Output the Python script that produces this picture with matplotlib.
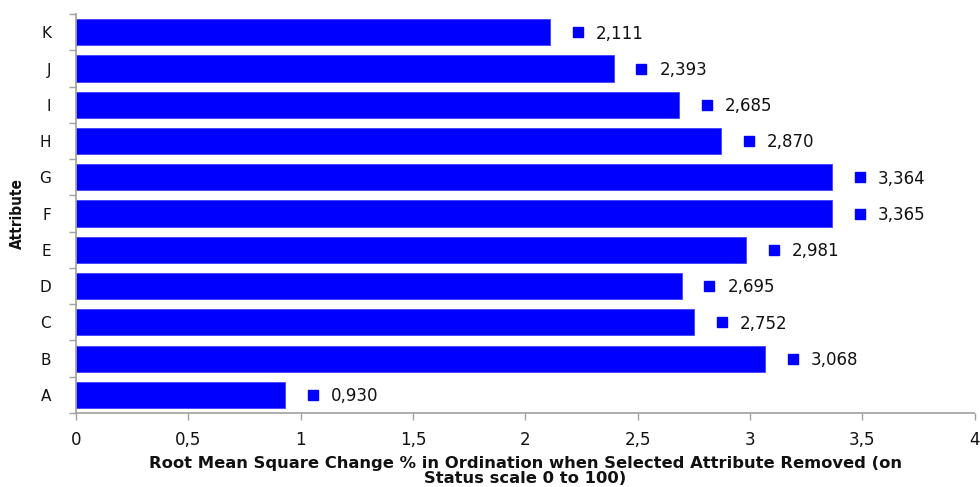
import matplotlib.pyplot as plt
import matplotlib.transforms as mtransforms

attributes = ['A', 'B', 'C', 'D', 'E', 'F', 'G', 'H', 'I', 'J', 'K']
rms_change = [0.930, 3.068, 2.752, 2.695, 2.981, 3.365, 3.364, 2.870, 2.685, 2.393, 2.111]
xticks = [0, 0.5, 1, 1.5, 2, 2.5, 3, 3.5, 4]

blue = '#0000FF'
grey = '#A0A0A0'
txt = '#111111'

fig = plt.figure(figsize=(9.8, 4.87), dpi=100)
ax = fig.add_axes([0.0776, 0.152, 0.917, 0.819])

ypos = range(len(attributes))
ax.barh(ypos, rms_change, height=0.72, color=blue, edgecolor='#4040FF', linewidth=0.6)

# legend key square shifted right of bar end by a fixed offset
offset = mtransforms.ScaledTranslation(20 / 72, 0, fig.dpi_scale_trans)
for y, v in zip(ypos, rms_change):
    ax.plot([v], [y], marker='s', markersize=6.5, color=blue, linestyle='none',
            transform=ax.transData + offset)
    ax.annotate(f'{v:.3f}'.replace('.', ','), xy=(v, y), xytext=(33, -1),
                textcoords='offset points', va='center', ha='left',
                fontsize=12, color=txt)

ax.set_xlim(0, 4)
ax.set_ylim(-0.5, len(attributes) - 0.5)
ax.set_xticks(xticks)
ax.set_xticklabels([('%g' % t).replace('.', ',') for t in xticks], fontsize=12, color=txt)
ax.set_yticks(list(ypos))
ax.set_yticklabels(attributes, fontsize=11, color=txt)
ax.set_yticks([y - 0.5 for y in range(len(attributes) + 1)], minor=True)
ax.tick_params(axis='y', which='major', length=0, pad=18)
ax.tick_params(axis='y', which='minor', length=5, color=grey, width=1)
ax.tick_params(axis='x', length=5, color=grey, width=1, pad=8)

for s in ['top', 'right']:
    ax.spines[s].set_visible(False)
ax.spines['left'].set_color(grey)
ax.spines['left'].set_linewidth(1.2)
ax.spines['bottom'].set_color(grey)
ax.spines['bottom'].set_linestyle((0, (1, 1)))
ax.spines['bottom'].set_linewidth(1.2)

ax.set_xlabel('Root Mean Square Change % in Ordination when Selected Attribute Removed (on\nStatus scale 0 to 100)',
              fontsize=11.8, fontweight='bold', labelpad=5, linespacing=1.0, color=txt)
ax.set_ylabel('Attribute', fontsize=11, fontweight='bold', fontstretch='condensed', labelpad=10, color=txt)

fig.savefig('out.png', dpi=100)
